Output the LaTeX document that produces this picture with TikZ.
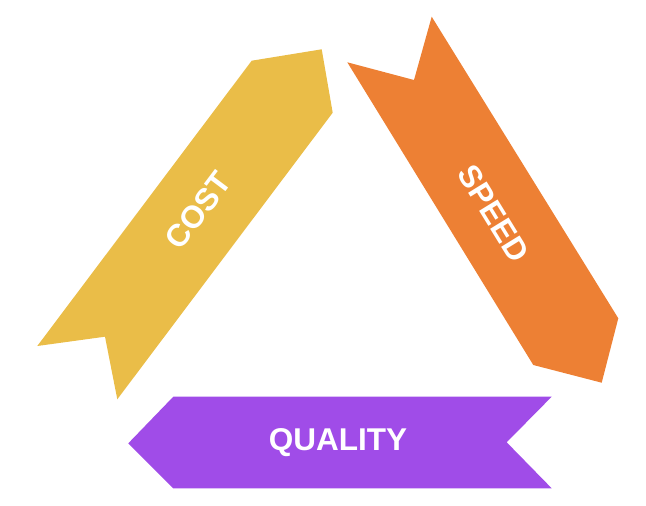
\documentclass[tikz,border=0pt]{standalone}
\usepackage{fontspec}
\setmainfont{Liberation Sans}
\definecolor{costc}{RGB}{234,189,72}
\definecolor{speedc}{RGB}{237,128,52}
\definecolor{qualc}{RGB}{160,76,232}
\tikzset{
  ribbontext/.style={text=white,font=\bfseries\fontsize{31.5}{36}\selectfont,inner sep=0pt},
}
\begin{document}
\begin{tikzpicture}[x=1pt,y=-1pt]
\useasboundingbox (0,0) rectangle (646,506);
% COST
\fill[costc] (251.7,60.7) -- (321.7,49.3) -- (332.7,112.7) -- (117.3,399.3) -- (105,336.7) -- (37.3,346) -- cycle;
% SPEED
\fill[speedc] (347.3,62.3) -- (414,80) -- (431.7,16.7) -- (618.3,318.3) -- (601.7,382.7) -- (533.3,365) -- cycle;
% QUALITY
\fill[qualc] (128.3,443.3) -- (173.3,396.7) -- (551.7,396.7) -- (506.7,442.3) -- (551.7,488.3) -- (173.3,488.3) -- cycle;
\node[ribbontext,rotate=53.1] (cost) at (198.3,210.5) {COST};
\node[ribbontext,rotate=-58.4] (speed) at (494,213.3) {SPEED};
\node[ribbontext] (quality) at (338,442.5) {QUALITY};
\end{tikzpicture}
\end{document}
